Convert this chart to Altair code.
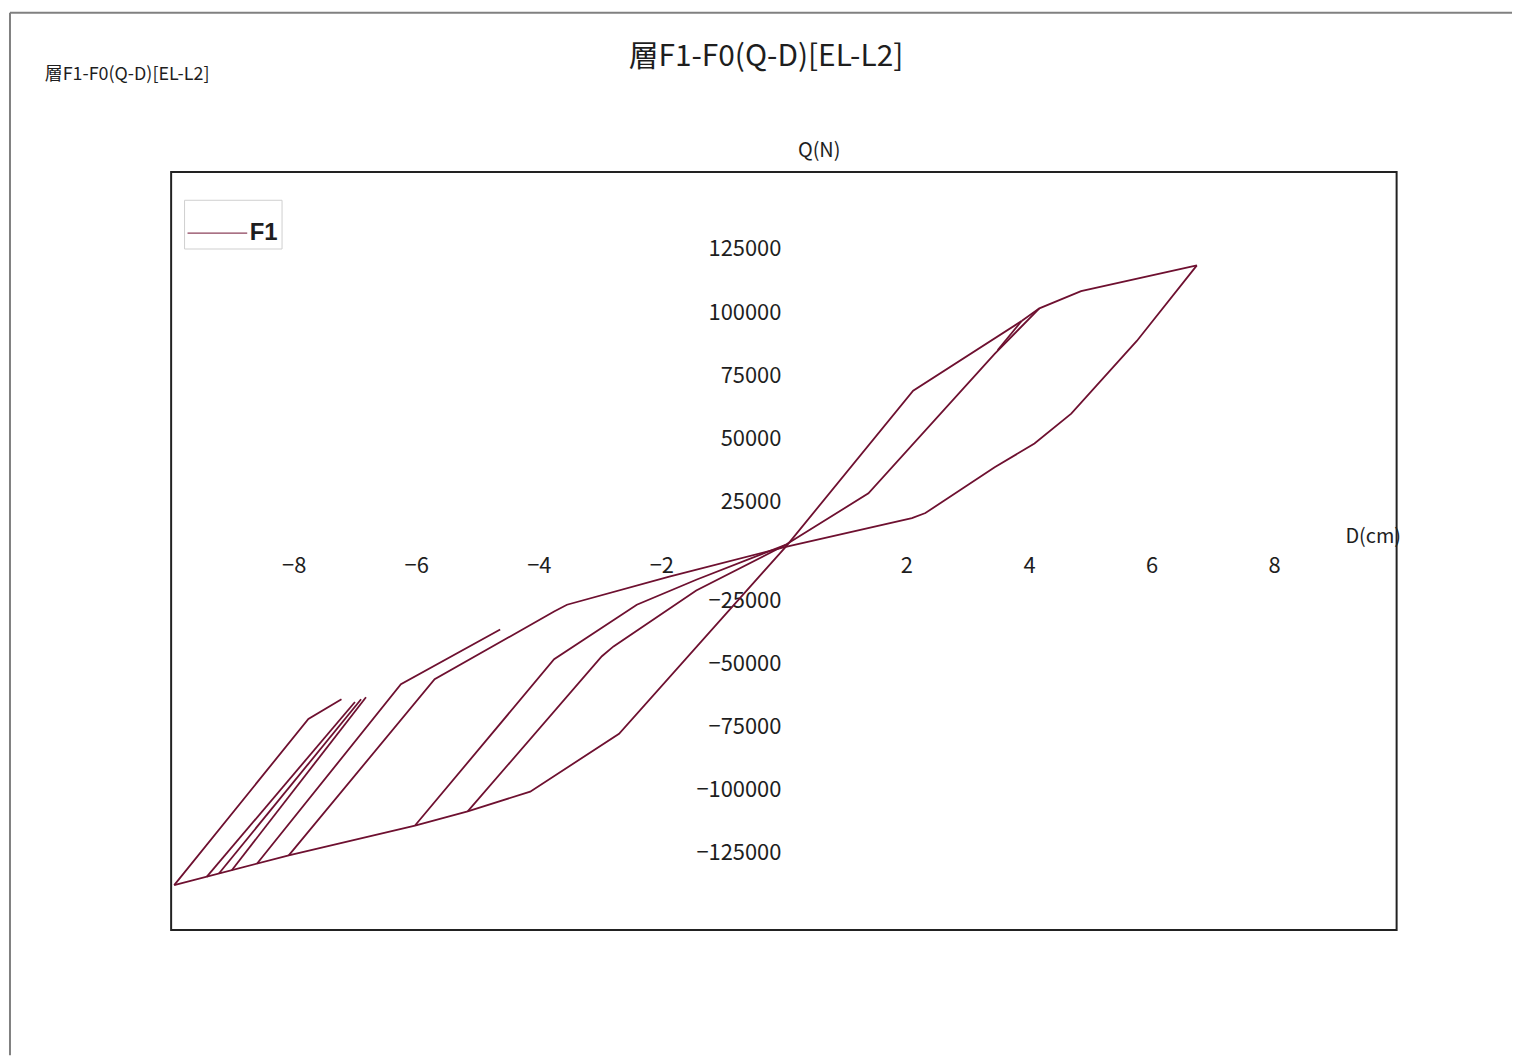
import altair as alt
import pandas as pd

TITLE = "層F1-F0(Q-D)[EL-L2]"
SERIES = "F1"
X_TITLE = "D(cm)"
Y_TITLE = "Q(N)"

# F1 hysteresis record, split into polyline pieces (D in cm, Q in N)
SEG = (["s01"] * 3 + ["s02"] * 2 + ["s03"] * 8 + ["s04"] * 5 + ["s05"] * 4 +
       ["s06"] * 13 + ["s07"] * 7 + ["s08"] * 3 + ["s09"] * 2 + ["s10"] * 2 +
       ["s11"] * 2 + ["s12"] * 3)
D_CM = [0.03, 2.11, 3.88,
        3.88, 3.49,
        4.17, 3.44, 1.38, 0.03, -1.43, -2.78, -2.97, -5.16,
        0.03, -1.43, -2.40, -3.75, -6.02,
        3.88, 4.17, 4.85, 6.74,
        6.74, 5.76, 4.69, 4.09, 3.44, 2.31, 2.09, 0.03, -1.87, -3.54, -3.75, -5.70, -8.08,
        0.03, -2.69, -4.14, -5.16, -6.02, -8.08, -9.95,
        -9.95, -7.76, -7.22,
        -9.42, -7.00,
        -9.22, -6.90,
        -9.01, -6.82,
        -8.60, -6.25, -4.63]
Q_N = [1600, 63400, 91000,
       91000, 79500,
       96000, 78000, 22800, 2400, -15700, -37800, -41700, -103100,
       2400, -11400, -21300, -42900, -108700,
       91000, 96000, 102800, 113000,
       113000, 83100, 54300, 42500, 33100, 15000, 13000, 1600, -10200, -21300, -24000, -50800, -120500,
       1600, -72400, -95300, -103100, -108700, -120500, -132300,
       -132300, -66500, -58700,
       -129000, -59800,
       -127700, -58700,
       -126400, -57900,
       -123800, -52800, -31100]

X_TICKS = [-8, -6, -4, -2, 2, 4, 6, 8]
Y_TICKS = [-125000, -100000, -75000, -50000, -25000, 25000, 50000, 75000, 100000, 125000]

LINE_COLOR = "#6e1030"
TEXT_COLOR = "#1e1e1e"
FONT = "Noto Sans CJK JP"
W, H = 1232, 762

df = pd.DataFrame({"seg": SEG, "D": D_CM, "Q": Q_N})
df["series"] = SERIES
df["idx"] = list(range(len(df)))

line = alt.Chart(df).mark_line(strokeWidth=1.8, clip=True).encode(
    x=alt.X("D:Q", scale=alt.Scale(domain=[-10, 10], nice=False, zero=False),
            axis=alt.Axis(orient="bottom", offset=-H / 2, values=X_TICKS, grid=False,
                          ticks=False, domain=False, labelFont=FONT, labelFontSize=22,
                          labelColor=TEXT_COLOR, labelPadding=5, labelOverlap=False,
                          labelFlush=False,
                          title=X_TITLE, titleX=1208, titleY=-14, titleAlign="center",
                          titleBaseline="middle", titleFont=FONT, titleFontSize=20,
                          titleFontWeight="normal", titleColor=TEXT_COLOR)),
    y=alt.Y("Q:Q", scale=alt.Scale(domain=[-150000, 150000], nice=False, zero=False),
            axis=alt.Axis(orient="left", offset=-W / 2, values=Y_TICKS, grid=False,
                          ticks=False, domain=False, labelFont=FONT, labelFontSize=22,
                          labelColor=TEXT_COLOR, labelPadding=3, labelOverlap=False,
                          labelFlush=False, format="d",
                          labelOffset={"condition": {"test": "datum.value > 0", "value": 14}, "value": -14},
                          title=Y_TITLE, titleX=35, titleY=-22, titleAngle=0,
                          titleAlign="center", titleBaseline="middle", titleFont=FONT,
                          titleFontSize=20, titleFontWeight="normal", titleColor=TEXT_COLOR)),
    color=alt.Color("series:N", scale=alt.Scale(domain=[SERIES], range=[LINE_COLOR]),
                    legend=alt.Legend(orient="none", legendX=13, legendY=28, title=None,
                                      symbolType="stroke", symbolSize=3600,
                                      symbolStrokeWidth=1,
                                      labelFont="Liberation Sans", labelFontSize=24,
                                      labelFontWeight="bold", labelColor=TEXT_COLOR,
                                      labelOffset=2, strokeColor="#cfcfcf",
                                      fillColor="white", padding=3)),
    detail="seg:N",
    order="idx:Q",
)

one = pd.DataFrame({"k": [0]})
frame_top = alt.Chart(one).mark_rule(color="#808080", strokeWidth=2).encode(
    x=alt.value(-162), x2=alt.value(1348), y=alt.value(-160))
frame_left = alt.Chart(one).mark_rule(color="#808080", strokeWidth=2).encode(
    x=alt.value(-162), y=alt.value(-160), y2=alt.value(888))
small = alt.Chart(one).mark_text(text=TITLE, align="left", baseline="middle",
                                 font=FONT, fontSize=18, color=TEXT_COLOR).encode(
    x=alt.value(-127), y=alt.value(-97))
main_title = alt.Chart(one).mark_text(text=TITLE, align="center", baseline="middle",
                                      font=FONT, fontSize=30, color=TEXT_COLOR).encode(
    x=alt.value(598), y=alt.value(-115))

chart = alt.layer(frame_top, frame_left, small, main_title, line).properties(
    width=W, height=H,
    autosize=alt.AutoSizeParams(type="none"),
    padding={"left": 164, "top": 162, "right": 116, "bottom": 126},
    background="white",
).configure_view(stroke="#222222", strokeWidth=2)

chart.save("out.html", embed_options={"renderer": "svg", "actions": False})
